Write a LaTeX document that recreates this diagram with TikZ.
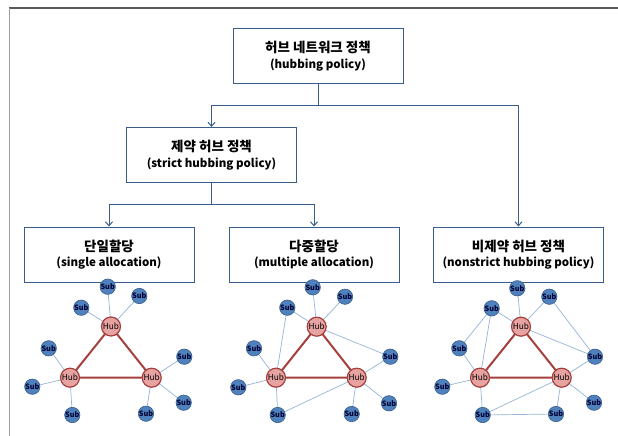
\documentclass[tikz,border=0pt]{standalone}
\usepackage{fontspec}
\setmainfont{Noto Sans CJK KR}
\usetikzlibrary{arrows.meta}
\definecolor{boxblue}{HTML}{385D8A}
\definecolor{subfill}{HTML}{4F81BD}
\definecolor{subedge}{HTML}{95B3D7}
\definecolor{hubfill}{HTML}{E6A3A1}
\definecolor{hubline}{HTML}{A5403D}
\newcommand{\krl}[1]{{\fontsize{13.5}{15}\selectfont #1}}
\tikzset{
  catbox/.style={draw=boxblue, line width=1pt, minimum width=170pt, minimum height=55pt, align=center, font=\fontsize{11.5}{15.5}\selectfont\bfseries, inner sep=0pt},
  conn/.style={draw=boxblue, line width=1pt, -{Straight Barb[length=4pt,width=7pt]}},
  plain/.style={draw=boxblue, line width=1pt},
  subnode/.style={circle, fill=subfill, draw=boxblue, line width=0.6pt, minimum size=15pt, inner sep=0pt, font=\fontsize{7.3}{8}\selectfont\bfseries, text=black!80!blue},
  hubnode/.style={circle, fill=hubfill, draw=hubline, line width=1.2pt, minimum size=19pt, inner sep=0pt, font=\fontsize{8.3}{9}\selectfont, text=black},
  hubedge/.style={draw=hubline, line width=2pt},
  subline/.style={draw=subedge, line width=0.7pt}
}
\begin{document}
\begin{tikzpicture}[x=1pt, y=-1pt]
\useasboundingbox (0,0) rectangle (618,436);
% frame
\draw[draw=black!65, line width=1.3pt] (9,8) -- (618,8);
\draw[draw=black!38, line width=1.3pt] (9.5,8) -- (9.5,436);
% boxes
\node[catbox] (top) at (318,56) {\krl{허브 네트워크 정책}\\(hubbing policy)};
\node[catbox] (strict) at (211.5,155) {\krl{제약 허브 정책}\\(strict hubbing policy)};
\node[catbox] (single) at (109,254.5) {\krl{단일할당}\\(single allocation)};
\node[catbox] (multi) at (314,254.5) {\krl{다중할당}\\(multiple allocation)};
\node[catbox] (nonstrict) at (518.5,254.5) {\krl{비제약 허브 정책}\\(nonstrict hubbing policy)};
\coordinate (j1) at (318,105);
\coordinate (j2) at (211.5,204);
\draw[plain] (top.south) -- (j1);
\draw[conn] (j1) -| (strict.north);
\draw[conn] (j1) -| (nonstrict.north);
\draw[plain] (strict.south) -- (j2);
\draw[conn] (j2) -| (single.north);
\draw[conn] (j2) -| (multi.north);

% ---------- network 1 ----------
\coordinate (a1) at (111,326.5);
\coordinate (a2) at (70,377.7);
\coordinate (a3) at (151.7,377.7);
\coordinate (a11) at (107.7,286.7);
\coordinate (a12) at (139.3,296);
\coordinate (a13) at (81.3,307.7);
\coordinate (a21) at (48.7,348.3);
\coordinate (a22) at (32.3,386.7);
\coordinate (a23) at (72.3,415);
\coordinate (a31) at (184.3,356.7);
\coordinate (a32) at (183.7,402.7);
\coordinate (a33) at (146,413.7);

% ---------- network 2 ----------
\coordinate (b1) at (316.7,326.7);
\coordinate (b2) at (276,377.7);
\coordinate (b3) at (356.7,377.7);
\coordinate (b11) at (312.7,287.3);
\coordinate (b12) at (345,296.7);
\coordinate (b13) at (287.3,307.7);
\coordinate (b21) at (254,348.3);
\coordinate (b22) at (238.3,387.3);
\coordinate (b23) at (277.7,415);
\coordinate (b31) at (390.3,356.7);
\coordinate (b32) at (389,403.3);
\coordinate (b33) at (351.7,414);

% ---------- network 3 ----------
\coordinate (c1) at (521,326.7);
\coordinate (c2) at (480,377.7);
\coordinate (c3) at (561.7,377.7);
\coordinate (c11) at (517.3,288.3);
\coordinate (c12) at (549.3,296.7);
\coordinate (c13) at (491.7,308.3);
\coordinate (c21) at (459.3,348.3);
\coordinate (c22) at (442.3,386.7);
\coordinate (c23) at (482.7,415);
\coordinate (c31) at (595,356.7);
\coordinate (c32) at (594,402.7);
\coordinate (c33) at (556,414);

% edges
\foreach \p in {a,b,c}{
  \draw[subline] (\p1) -- (\p11) (\p1) -- (\p12) (\p1) -- (\p13)
                 (\p2) -- (\p21) (\p2) -- (\p22) (\p2) -- (\p23)
                 (\p3) -- (\p31) (\p3) -- (\p32) (\p3) -- (\p33);
  \draw[hubedge] (\p1) -- (\p2) -- (\p3) -- cycle;
}
\draw[subline] (b13) -- (b2) (b1) -- (b31) (b23) -- (b3);
\draw[subline] (c13) -- (c21) (c13) -- (c2) (c1) -- (c31) (c12) -- (c31) (c23) -- (c3) (c23) -- (c33);

% nodes on top
\foreach \p in {a,b,c}{
  \foreach \h in {1,2,3}{
    \node[hubnode] (n\p\h) at (\p\h) {Hub};
    \foreach \s in {1,2,3}{
      \node[subnode] (n\p\h\s) at (\p\h\s) {Sub};
    }
  }
}
\end{tikzpicture}
\end{document}
